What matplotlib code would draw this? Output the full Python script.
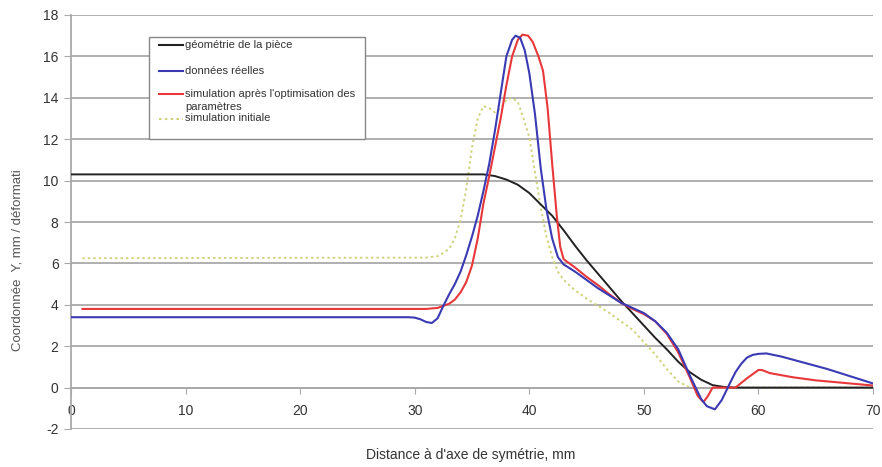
import matplotlib
matplotlib.use("Agg")
import matplotlib.pyplot as plt
from matplotlib.patches import Rectangle
from matplotlib.lines import Line2D

plt.rcParams['font.family'] = ['Liberation Sans', 'DejaVu Sans']
plt.rcParams['axes.unicode_minus'] = False

# géométrie de la pièce
geo_x = [0, 36, 37, 38, 39, 40, 41, 42, 43, 44, 45, 46, 47, 48, 49, 50, 51, 52, 53, 54, 55, 56, 57, 58, 70]
geo_y = [10.3, 10.3, 10.22, 10.05, 9.8, 9.4, 8.85, 8.3, 7.6, 6.85, 6.15, 5.5, 4.85, 4.2, 3.6, 3.0, 2.4,
         1.85, 1.25, 0.75, 0.38, 0.12, 0.03, 0.0, 0.0]

# données réelles
reel_x = [0, 29.5, 30, 30.5, 31, 31.5, 32, 32.5, 33, 33.5, 34, 34.5, 35, 35.5, 36, 36.5, 37, 37.5, 38, 38.5,
          38.8, 39.2, 39.6, 40, 40.5, 41, 41.5, 42, 42.5, 43, 44, 45, 46, 47, 48, 49, 50, 51, 52, 53, 54,
          55, 55.5, 56.2, 56.8, 57.5, 58, 58.5, 59, 59.5, 60, 60.7, 62, 64, 66, 68, 70]
reel_y = [3.4, 3.4, 3.38, 3.3, 3.17, 3.12, 3.35, 3.95, 4.5, 5.0, 5.6, 6.4, 7.3, 8.3, 9.5, 10.8, 12.4, 14.2, 16.0,
          16.8, 17.0, 16.9, 16.3, 15.2, 13.2, 10.6, 8.6, 7.2, 6.3, 5.95, 5.6, 5.2, 4.8, 4.45, 4.1, 3.85,
          3.6, 3.2, 2.65, 1.85, 0.6, -0.55, -0.9, -1.05, -0.6, 0.2, 0.75, 1.15, 1.45, 1.58, 1.63, 1.65,
          1.5, 1.2, 0.9, 0.55, 0.2]

# simulation après l'optimisation des paramètres
opt_x = [1, 31, 32, 33, 33.5, 34, 34.5, 35, 35.5, 36, 36.5, 37, 37.5, 38, 38.5, 39, 39.4, 39.9, 40.3, 40.8,
         41.2, 41.6, 42, 42.4, 42.7, 43, 44, 45, 46, 47, 48, 49, 50, 51, 52, 53, 54, 54.7, 55.2, 55.6, 56,
         58, 59, 60, 60.3, 61, 63, 65, 67, 70]
opt_y = [3.8, 3.8, 3.85, 4.05, 4.25, 4.6, 5.1, 5.9, 7.2, 8.9, 10.2, 11.6, 13.0, 14.6, 16.0, 16.8, 17.05,
         17.0, 16.7, 16.0, 15.3, 13.5, 10.8, 8.3, 6.8, 6.2, 5.8, 5.35, 4.95, 4.5, 4.1, 3.8, 3.55, 3.2, 2.6,
         1.7, 0.5, -0.4, -0.7, -0.4, 0.0, 0.0, 0.45, 0.85, 0.85, 0.7, 0.5, 0.35, 0.25, 0.1]

# simulation initiale
init_x = [1, 31, 32, 32.5, 33, 33.5, 34, 34.5, 35, 35.5, 36, 36.5, 37, 37.5, 38, 38.5, 39, 39.5, 40, 40.5,
          41, 41.5, 42, 42.5, 43, 44, 45, 46, 47, 48, 49, 50, 51, 52, 53, 54, 55, 56, 70]
init_y = [6.25, 6.28, 6.35, 6.5, 6.7, 7.2, 8.1, 9.6, 11.6, 13.0, 13.6, 13.5, 13.3, 13.5, 13.9, 14.0, 13.8,
          13.0, 12.1, 10.4, 8.7, 7.3, 6.3, 5.6, 5.2, 4.7, 4.3, 3.95, 3.6, 3.2, 2.8, 2.2, 1.6, 0.9, 0.3,
          0.0, -0.05, 0.0, 0.0]

x_ticks = [0, 10, 20, 30, 40, 50, 60, 70]
y_ticks = [-2, 0, 2, 4, 6, 8, 10, 12, 14, 16, 18]

c_geo = '#222222'
c_reel = '#3a3ab4'
c_opt = '#e8383a'
c_init = '#cfd27a'
grid_c = '#a9a9a9'

fig = plt.figure(figsize=(8.82, 4.67), dpi=100)
ax = fig.add_axes([71 / 882, 1 - 429 / 467, 802 / 882, 414 / 467])

for yv in y_ticks:
    ax.axhline(yv, color=grid_c, lw=1.3, zorder=0)

ax.plot(init_x, init_y, color=c_init, lw=1.4, ls=(0, (1.2, 1.6)), zorder=2)
ax.plot(geo_x, geo_y, color=c_geo, lw=1.4, zorder=3)
ax.plot(opt_x, opt_y, color=c_opt, lw=1.5, zorder=4)
ax.plot(reel_x, reel_y, color=c_reel, lw=1.5, zorder=5)

ax.set_xlim(0, 70)
ax.set_ylim(-2, 18)
ax.set_xticks(x_ticks)
ax.set_yticks(y_ticks)

for s in ['top', 'right']:
    ax.spines[s].set_visible(False)
ax.spines['bottom'].set_position(('data', 0))
ax.spines['bottom'].set_color(grid_c)
ax.spines['bottom'].set_linewidth(1.3)
ax.spines['left'].set_color(grid_c)
ax.spines['left'].set_linewidth(1.3)
ax.tick_params(axis='x', direction='out', length=4, color=grid_c, pad=8, labelsize=10, labelcolor='#333333')
ax.tick_params(axis='y', direction='out', length=5, color=grid_c, pad=4, labelsize=10, labelcolor='#333333')

fig.text(18 / 882, 1 - 260 / 467, 'Coordonnée  Y, mm / déformati', rotation=90, ha='center', va='center',
         fontsize=9.5, color='#555555')
fig.text(471 / 882, 1 - 455 / 467, "Distance à d'axe de symétrie, mm", ha='center', va='center',
         fontsize=10, color='#333333')

# legend drawn as a box in figure pixels
W, H = 882, 467
fig.patches.append(Rectangle((149 / W, 1 - 139 / H), 216 / W, 102 / H, transform=fig.transFigure,
                             facecolor='white', edgecolor='#888888', lw=1.0, zorder=10))
entries = [
    (45, 45, c_geo, '-', 'géométrie de la pièce'),
    (71, 71, c_reel, '-', 'données réelles'),
    (94, 94, c_opt, '-', "simulation après l'optimisation des"),
    (None, 107, None, None, 'paramètres'),
    (119, 118, c_init, (0, (1.2, 1.6)), 'simulation initiale'),
]
for ly, ty, col, ls, label in entries:
    if ly is not None:
        fig.lines.append(Line2D([159 / W, 183 / W], [1 - ly / H, 1 - ly / H], transform=fig.transFigure,
                                color=col, lw=1.5, ls=ls, zorder=11))
    fig.text(185 / W, 1 - ty / H, label, ha='left', va='center', fontsize=8, color='#333333', zorder=12)

fig.savefig('out.png', dpi=100)
